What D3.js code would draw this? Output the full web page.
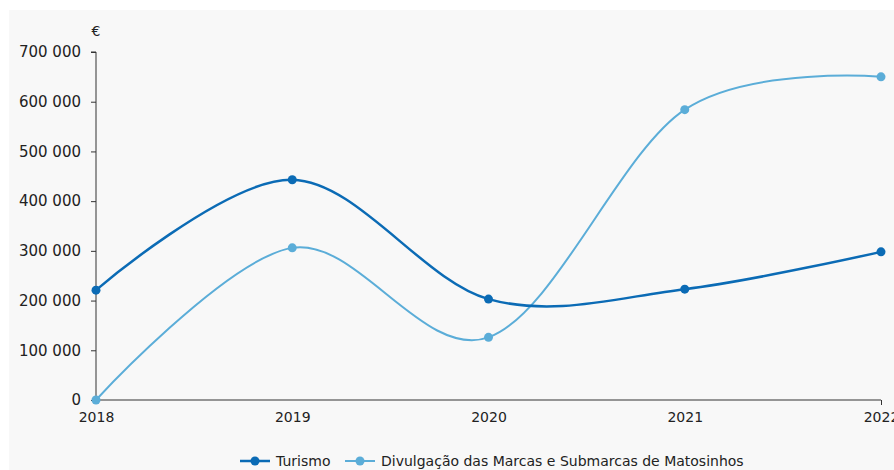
<!DOCTYPE html>
<html><head><meta charset="utf-8">
<script src="https://cdn.jsdelivr.net/npm/d3@7"></script>
<style>
html,body{margin:0;padding:0;background:#fff;}
svg{display:block;}
text{font-family:"DejaVu Sans",Verdana,sans-serif;fill:#222;}
</style></head>
<body>
<svg id="c" width="894" height="470"></svg>
<script>
const years = ["2018","2019","2020","2021","2022"];
const turismo = [221000, 443000, 203000, 223000, 298000];
const divulgacao = [0, 306000, 126000, 584000, 650000];
const yTicks = [0,100000,200000,300000,400000,500000,600000,700000];
const seriesNames = ["Turismo","Divulgação das Marcas e Submarcas de Matosinhos"];
const colors = ["#0b6bb5","#5badd8"];

const svg = d3.select("#c");
svg.append("rect").attr("x",9).attr("y",10).attr("width",885).attr("height",460).attr("fill","#f8f8f8");

const x = d3.scalePoint().domain(years).range([96,881]);
const y = d3.scaleLinear().domain([0,700000]).range([400,52]);
const fmt = v => d3.format(",")(v).replace(/,/g," ");

const gy = svg.append("g").attr("transform","translate(96,0)")
  .call(d3.axisLeft(y).tickValues(yTicks).tickFormat(fmt).tickSize(5).tickPadding(10));
gy.selectAll("text").style("font-size","15px").attr("fill","#222");
gy.selectAll("line,path").attr("stroke","#333");
gy.select(".domain").attr("d","M-5,52H0V400");

const gx = svg.append("g").attr("transform","translate(0,400)")
  .call(d3.axisBottom(x).tickSize(4).tickPadding(8));
gx.selectAll("text").style("font-size","14px").attr("fill","#222");
gx.selectAll("line,path").attr("stroke","#333");
gx.selectAll(".tick line").attr("y1",0).attr("y2", (d,i)=> i===years.length-1 ? 5 : 0);
gx.select(".domain").attr("d","M96,0H881");

svg.append("text").attr("x",96).attr("y",36).attr("text-anchor","middle").style("font-size","14px").text("€");

const line = d3.line().x((d,i)=>x(years[i])).y(d=>y(d)).curve(d3.curveCardinal.tension(0));
[divulgacao, turismo].forEach((s,k)=>{
  const c = k===0 ? colors[1] : colors[0];
  const w = k===0 ? 2 : 2.5;
  svg.append("path").datum(s).attr("d",line).attr("fill","none").attr("stroke",c).attr("stroke-width",w);
  svg.selectAll(null).data(s).enter().append("circle")
    .attr("cx",(d,i)=>x(years[i])).attr("cy",d=>y(d)).attr("r",4.5).attr("fill",c);
});

// legend
const leg = [{n:seriesNames[0],c:colors[0],x:240,w:2.5},{n:seriesNames[1],c:colors[1],x:345,w:2}];
leg.forEach(l=>{
  const g = svg.append("g").attr("transform",`translate(${l.x},461)`);
  g.append("line").attr("x1",0).attr("x2",30).attr("stroke",l.c).attr("stroke-width",l.w);
  g.append("circle").attr("cx",15).attr("r",4.5).attr("fill",l.c);
  g.append("text").attr("x",36).attr("y",5).style("font-size",  "14px").text(l.n);
});
</script>
</body></html>
